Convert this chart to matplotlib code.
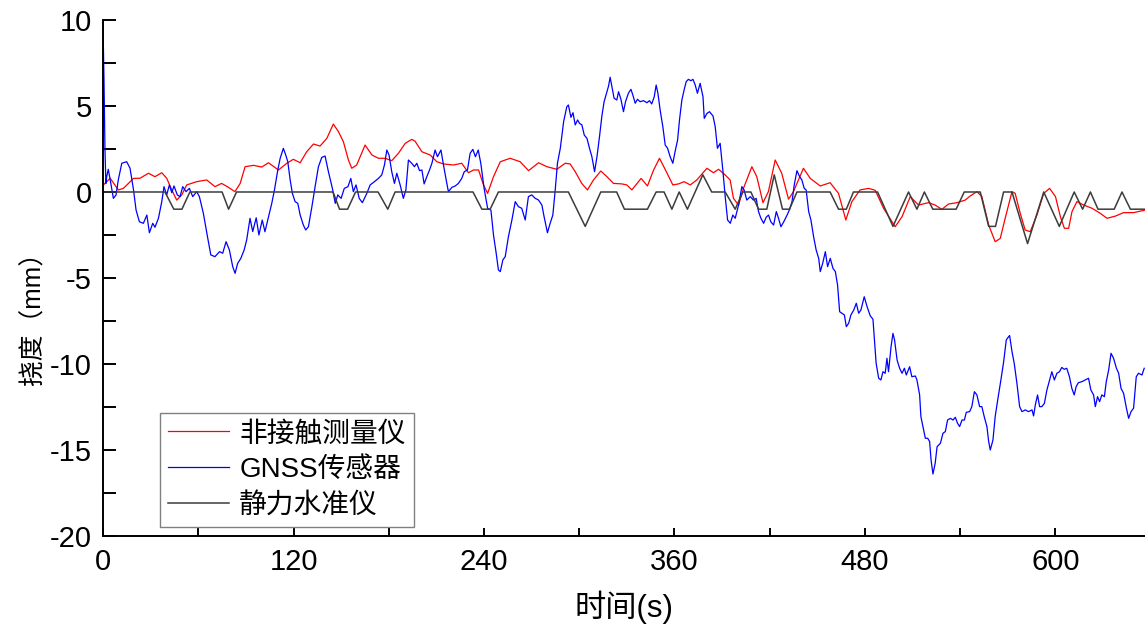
import matplotlib
matplotlib.use('Agg')
import matplotlib.pyplot as plt
from matplotlib.ticker import MultipleLocator

# 非接触测量仪 (red)
red_t = [0.2, 4.5, 9.6, 12.8, 19.2, 23.3, 28.6, 32.7, 37.0, 40.1, 43.3, 46.4, 49.6, 52.7, 59.0,
         65.3, 70.5, 74.7, 79.0, 83.1, 86.4, 89.5, 94.8, 100.0, 104.2, 110.5, 115.8, 119.9, 124.2,
         128.3, 132.6, 136.7, 141.0, 145.1, 148.3, 151.4, 154.6, 156.7, 159.8, 165.1, 169.4, 173.5,
         177.7, 181.9, 186.1, 190.4, 194.5, 196.6, 200.9, 206.1, 210.3, 214.5, 220.8, 226.0, 230.2,
         233.4, 236.6, 239.7, 242.3, 246.0, 250.3, 256.5, 262.8, 268.1, 274.4, 279.7, 285.9, 291.2,
         294.3, 297.5, 301.6, 305.2, 309.0, 313.6, 317.5, 321.6, 326.9, 330.0, 333.2, 339.0, 343.0,
         346.9, 350.6, 354.9, 359.0, 362.6, 366.1, 370.0, 374.1, 380.5, 384.6, 387.8, 392.0, 395.1,
         397.2, 400.4, 403.5, 408.8, 411.9, 415.8, 419.2, 423.5, 427.6, 431.9, 435.0, 441.3, 445.6,
         451.9, 458.1, 463.4, 468.0, 471.8, 477.0, 482.3, 486.5, 491.8, 499.1, 503.4, 508.6, 513.8,
         520.1, 524.3, 528.5, 532.7, 538.0, 543.2, 546.4, 550.6, 553.7, 558.0, 562.1, 565.3, 568.4,
         572.7, 574.7, 577.9, 581.0, 584.2, 588.4, 592.7, 596.4, 600.1, 603.2, 605.7, 608.4, 610.5,
         613.6, 617.9, 623.2, 628.3, 632.6, 637.9, 643.0, 649.3, 656.7]
red_v = [0.41, 0.8, 0.12, 0.21, 0.79, 0.8, 1.09, 0.89, 1.12, 0.8, 0.12, -0.47, -0.17, 0.41, 0.6,
         0.7, 0.31, 0.5, 0.27, 0.02, 0.5, 1.47, 1.55, 1.45, 1.7, 1.28, 1.67, 1.9, 1.7,
         2.34, 2.79, 2.67, 3.12, 3.95, 3.51, 2.93, 1.86, 1.38, 1.57, 2.73, 2.15, 1.96,
         1.96, 1.82, 2.25, 2.83, 3.06, 2.95, 2.34, 2.15, 1.76, 1.63, 1.57, 1.67, 1.12,
         1.28, 1.28, 0.41, -0.08, 0.89, 1.76, 1.96, 1.76, 1.24, 1.7, 1.47, 1.32, 1.67,
         1.63, 1.18, 0.5, 0.12, 0.7, 1.22, 0.89, 0.5, 0.47, 0.41, 0.12, 0.79, 0.35,
         1.28, 1.96, 1.18, 0.41, 0.47, 0.6, 0.41, 0.7, 1.38, 1.12, 1.32, 0.99, 0.7,
         -0.37, -0.76, 0.21, 1.47, 0.89, -0.62, 0.02, 1.86, 1.09, -0.42, 0.02, 1.38, 0.79,
         0.35, 0.54, -0.08, -1.63, -0.56, 0.12, 0.21, 0.1, -0.95, -2.02, -1.44, -0.27, -0.76,
         -0.62, -0.76, -1.01, -0.7, -0.62, -0.47, -0.23, 0.02, -0.27, -1.92, -2.89, -2.7, -1.53,
         0.02, -0.08, -1.24, -2.21, -2.31, -1.34, -0.08, 0.21, -0.27, -1.44, -2.11, -2.11, -1.14,
         -0.56, -0.76, -0.95, -1.24, -1.53, -1.4, -1.2, -1.2, -1.05]

# GNSS传感器 (blue)
gnss_t = [0.0, 0.6, 1.2, 1.8, 2.3, 3.3, 4.9, 6.5, 8.2, 9.6, 11.8, 14.9, 17.0, 19.2, 20.8, 22.9,
          25.4, 27.6, 29.2, 31.3, 32.7, 34.9, 37.0, 38.4, 40.1, 41.8, 43.3, 44.7, 46.8, 48.5,
          50.2, 52.3, 54.4, 56.5, 59.0, 60.7, 63.2, 65.8, 67.9, 70.5, 73.4, 75.4, 77.5, 79.6,
          81.7, 83.2, 84.8, 86.8, 88.9, 90.5, 92.6, 94.3, 96.5, 98.2, 100.3, 102.0, 106.3, 108.0,
          110.1, 111.6, 113.6, 115.1, 116.4, 117.9, 119.3, 121.0, 122.7, 124.2, 126.2, 127.7,
          129.4, 131.6, 133.6, 135.7, 137.8, 139.9, 142.0, 144.5, 146.3, 147.9, 150.0, 152.0,
          154.3, 156.1, 157.7, 159.4, 161.4, 163.4, 166.2, 168.3, 171.0, 173.5, 175.6, 177.3,
          178.8, 180.2, 181.9, 183.6, 185.1, 187.2, 189.2, 190.8, 192.4, 194.5, 196.2, 197.7,
          199.4, 200.9, 202.3, 204.0, 205.7, 207.2, 209.2, 210.7, 212.9, 214.5, 216.2, 217.6,
          219.8, 221.9, 223.9, 226.0, 227.6, 229.6, 231.3, 233.0, 234.6, 236.4, 238.0, 240.1,
          242.3, 244.4, 246.0, 247.7, 249.1, 250.3, 251.9, 253.4, 255.4, 257.6, 259.7, 261.7,
          263.8, 266.0, 268.0, 270.1, 272.3, 274.4, 276.5, 277.9, 280.0, 281.7, 283.4, 284.9,
          286.3, 288.1, 290.2, 292.2, 293.2, 294.8, 296.1, 297.5, 299.0, 300.2, 301.7, 303.2,
          304.9, 306.5, 308.0, 309.7, 311.2, 312.8, 314.3, 315.7, 317.5, 318.5, 319.5, 320.6,
          322.0, 323.7, 324.8, 326.3, 327.9, 329.2, 331.0, 332.6, 333.8, 335.3, 336.7, 338.4,
          340.5, 342.7, 344.3, 345.7, 347.3, 348.5, 349.6, 351.0, 352.7, 354.2, 355.7, 357.3,
          359.0, 360.4, 362.0, 363.2, 364.7, 366.1, 367.4, 368.8, 370.4, 371.7, 373.1, 374.5,
          376.2, 378.0, 378.8, 380.5, 382.1, 384.3, 385.7, 387.1, 388.8, 390.5, 392.0, 393.5,
          395.2, 396.8, 398.3, 400.4, 402.5, 403.9, 405.6, 407.8, 409.8, 411.5, 413.0, 414.5,
          416.2, 417.8, 419.3, 420.7, 422.5, 424.2, 425.6, 427.1, 428.9, 431.0, 432.6, 434.1,
          435.5, 437.2, 438.9, 440.3, 441.8, 443.0, 444.6, 446.0, 447.7, 449.3, 450.9, 451.9,
          453.4, 455.1, 456.5, 458.2, 459.9, 461.4, 462.8, 464.1, 465.5, 467.1, 468.3, 469.8,
          471.2, 473.0, 474.6, 476.1, 477.5, 479.6, 481.4, 483.4, 485.1, 485.9, 487.1, 488.7,
          490.1, 491.4, 492.8, 493.9, 494.9, 496.5, 497.7, 498.7, 500.3, 501.9, 503.4, 504.9,
          506.1, 508.2, 509.6, 511.8, 512.8, 514.5, 515.3, 516.6, 518.1, 519.6, 520.8, 521.7,
          522.9, 524.3, 525.5, 527.6, 529.2, 530.7, 532.1, 533.9, 535.5, 537.0, 538.4, 539.7,
          541.2, 542.7, 543.9, 546.0, 547.4, 549.0, 550.6, 552.3, 553.7, 555.2, 556.9, 558.0,
          559.0, 560.7, 562.1, 563.7, 565.7, 567.4, 569.1, 570.6, 571.2, 572.7, 574.1, 575.8,
          577.5, 579.0, 581.1, 583.1, 585.3, 586.3, 587.4, 588.8, 590.1, 591.5, 593.1, 594.7,
          596.4, 597.8, 599.4, 601.0, 602.6, 604.1, 605.6, 607.2, 608.9, 610.4, 611.9, 613.1,
          614.5, 616.7, 618.8, 620.9, 622.4, 624.1, 625.2, 626.6, 627.9, 629.3, 630.9, 632.1,
          633.6, 635.1, 636.7, 638.5, 639.9, 641.4, 643.0, 644.8, 646.2, 647.7, 649.3, 651.0,
          652.4, 654.6, 656.0]
gnss_v = [9.5, 6.5, 2.5, 0.5, 0.89, 1.32, 0.5, -0.37, -0.17, 0.7, 1.67, 1.76, 1.38, 0.12, -1.05, -1.73,
          -1.82, -1.34, -2.37, -1.82, -2.05, -1.53, -0.56, 0.31, -0.17, 0.41, -0.04, 0.35, -0.17, -0.27,
          0.31, 0.02, 0.21, -0.27, 0.02, -0.27, -1.24, -2.6, -3.66, -3.76, -3.47, -3.56, -2.89, -3.37,
          -4.34, -4.73, -4.15, -3.86, -3.37, -2.79, -1.53, -2.3, -1.5, -2.5, -1.63, -2.31, -0.66, 0.12,
          1.28, 1.96, 2.54, 2.15, 1.76, 0.7, -0.08, -0.56, -0.66, -1.34, -1.92, -2.21,
          -2.02, -0.85, 0.31, 1.47, 2.01, 2.09, 1.18, 0.21, -0.66, -0.17, -0.37, 0.21,
          0.31, 0.79, 0.02, 0.41, -0.37, -0.62, -0.08, 0.41, 0.6, 0.79, 0.99, 1.57,
          2.44, 2.15, 1.18, 0.5, 1.09, 0.41, -0.37, 0.12, 1.86, 1.67, 1.47, 1.67,
          1.24, 1.28, 0.47, 0.89, 1.28, 1.67, 2.44, 2.05, 2.44, 1.57, 0.7, 0.02,
          0.27, 0.35, 0.5, 0.79, 1.18, 1.28, 2.25, 2.48, 2.05, 2.44, 1.67, 0.21,
          -0.95, -1.05, -2.5, -3.56, -4.53, -4.63, -3.95, -3.76, -2.6, -1.63, -0.56, -0.85,
          -0.95, -1.63, -0.27, -0.17, -0.37, -0.47, -0.76, -1.44, -2.37, -1.82, -1.34, 0.12,
          1.67, 2.54, 4.09, 4.96, 5.06, 4.34, 4.61, 3.9, 4.19, 3.99, 3.9, 3.31,
          3.12, 2.54, 2.05, 1.18, 2.05, 3.22, 4.42, 5.25, 5.83, 6.16, 6.67, 6.12,
          5.45, 5.35, 5.83, 5.39, 4.67, 5.25, 5.74, 5.97, 5.64, 5.16, 5.39, 5.25,
          5.31, 5.19, 5.31, 5.12, 5.54, 6.22, 5.74, 4.77, 3.8, 2.73, 2.54, 2.05,
          1.67, 2.34, 3.02, 4.19, 5.35, 5.93, 6.41, 6.55, 6.47, 6.55, 6.22, 5.74,
          6.32, 5.54, 4.28, 4.57, 4.67, 4.42, 3.8, 2.54, 2.83, 1.28, -0.27, -1.63,
          -1.82, -1.34, -1.53, -0.76, 0.31, 0.12, -0.47, -0.27, -0.47, -0.37, -1.14, -1.53,
          -1.82, -1.47, -1.34, -1.73, -1.92, -1.14, -1.53, -2.02, -1.73, -1.34, -1.01, -0.56,
          0.41, 1.24, 0.89, 0.7, 0.21, 0.12, -1.14, -1.63, -2.6, -3.37, -3.86, -4.63,
          -4.15, -3.47, -4.34, -3.86, -4.44, -4.63, -5.41, -6.96, -7.05, -7.15, -7.83, -7.63,
          -7.15, -6.86, -6.47, -7.05, -6.86, -6.09, -6.67, -7.2, -7.4, -8.41, -9.96, -10.83,
          -10.93, -10.45, -10.54, -9.67, -10.45, -8.99, -8.22, -8.6, -9.77, -10.25, -10.54, -10.25,
          -10.64, -10.16, -10.74, -10.7, -10.93, -11.8, -13.06, -13.64, -14.32, -14.32, -14.51, -15.58,
          -16.4, -15.77, -14.81, -14.61, -14.03, -13.93, -13.26, -13.16, -13.26, -13.1, -13.45, -13.64,
          -13.26, -13.26, -12.81, -12.77, -12.48, -11.61, -11.8, -12.48, -12.48, -13.06, -13.64, -14.51,
          -15.0, -14.42, -13.06, -12.09, -10.93, -9.9, -8.6, -8.41, -8.35, -9.28, -9.96, -11.12,
          -12.48, -12.77, -12.67, -12.77, -12.67, -13.02, -12.38, -11.8, -12.48, -12.48, -12.29, -11.51,
          -10.93, -10.45, -10.93, -10.54, -10.45, -10.2, -10.31, -10.25, -10.74, -11.42, -11.8, -11.32,
          -11.09, -11.03, -10.93, -10.83, -11.51, -11.8, -12.48, -11.9, -12.19, -11.8, -11.9, -11.03,
          -10.35, -9.38, -9.67, -10.25, -10.54, -11.42, -11.7, -12.57, -13.16, -12.77, -12.57, -10.74,
          -10.54, -10.64, -10.25]

# 静力水准仪 (black)
level_t = [0.0, 39.0, 44.6, 49.7, 54.7, 75.0, 79.1, 84.1, 144.9, 149.0, 154.1, 159.1, 173.3, 179.4,
           184.0, 233.1, 238.7, 243.9, 249.1, 293.2, 303.8, 313.6, 323.6, 328.5, 343.0, 348.5,
           353.5, 358.4, 363.0, 368.2, 377.9, 383.5, 392.0, 398.3, 403.1, 408.2, 413.0, 418.2,
           422.9, 428.1, 432.5, 437.2, 458.1, 463.4, 468.3, 472.8, 488.0, 497.7, 507.5, 512.8,
           517.5, 522.8, 537.5, 542.6, 552.7, 558.0, 562.3, 567.4, 572.7, 582.5, 592.7, 602.5,
           611.9, 617.2, 622.1, 626.9, 637.1, 642.0, 647.3, 657.0]
level_v = [0, 0, -1, -1, 0, 0, -1, 0, 0, -1, -1, 0, 0, -1,
           0, 0, -1, -1, 0, 0, -2, 0, 0, -1, -1, 0,
           0, -1, 0, -1, 1, 0, 0, -1, 0, 0, -1, -1,
           1, -1, -1, 0, 0, -1, -1, 0, 0, -2, 0, -1,
           0, -1, -1, 0, 0, -2, -2, 0, 0, -3, 0, -2,
           0, -1, 0, -1, -1, 0, -1, -1]

labels = ['非接触测量仪', 'GNSS传感器', '静力水准仪']

plt.rcParams['font.family'] = ['Liberation Sans', 'Noto Sans CJK SC']
plt.rcParams['axes.unicode_minus'] = False

fig = plt.figure(figsize=(11.45, 6.31), dpi=100)
ax = fig.add_axes([0.09, 0.1506, 0.91, 0.8177])

ax.plot(red_t, red_v, color='#ff0000', lw=0.9, label=labels[0])
ax.plot(gnss_t, gnss_v, color='#0000ff', lw=0.9, label=labels[1])
ax.plot(level_t, level_v, color='#3c3c3c', lw=1.1, label=labels[2])

ax.set_xlim(0, 656.5)
ax.set_ylim(-20, 10)
ax.xaxis.set_major_locator(MultipleLocator(120))
ax.xaxis.set_minor_locator(MultipleLocator(60))
ax.yaxis.set_major_locator(MultipleLocator(5))
ax.yaxis.set_minor_locator(MultipleLocator(2.5))

for side in ['top', 'right']:
    ax.spines[side].set_visible(False)
for side in ['left', 'bottom']:
    ax.spines[side].set_linewidth(1.4)

ax.tick_params(axis='y', which='both', direction='in', length=9, width=1.4, labelsize=21, pad=8)
ax.tick_params(axis='x', which='both', direction='in', length=5.5, width=1.4, labelsize=21, pad=9)

ax.set_xlabel('时间(s)', fontsize=22.5, labelpad=10)
ax.set_ylabel('挠度（mm）', fontsize=18.5)
ax.yaxis.set_label_coords(-0.055, 0.434)

leg = ax.legend(loc='lower left', bbox_to_anchor=(0.0547, 0.0174), borderaxespad=0,
                fontsize=20, fancybox=False, framealpha=1, edgecolor='#808080',
                handlelength=2.2, handletextpad=0.35, borderpad=0.3, labelspacing=0.35)
leg.get_frame().set_linewidth(1.0)

fig.savefig('out.png', dpi=100)
